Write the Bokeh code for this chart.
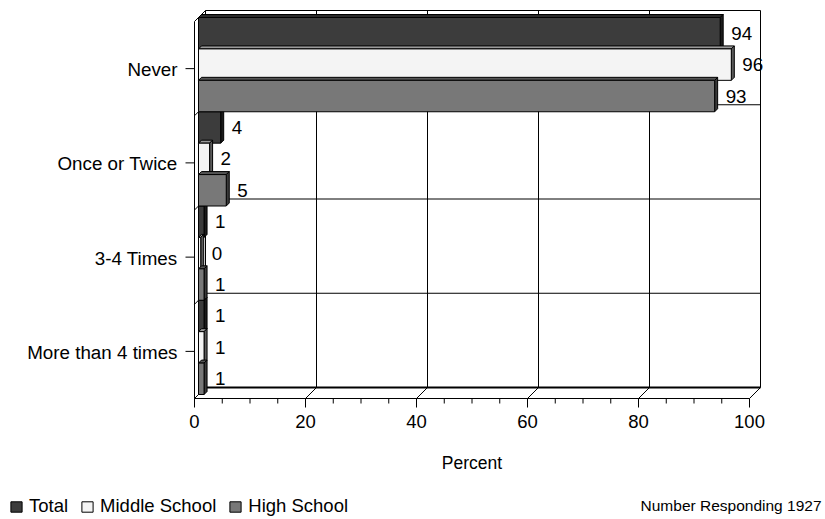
from bokeh.plotting import figure
from bokeh.models import Range1d, Legend, LegendItem, ColumnDataSource
from bokeh.embed import file_html
from bokeh.resources import INLINE
from bokeh.core.properties import value

# ---------------- data ----------------
categories = ["Never", "Once or Twice", "3-4 Times", "More than 4 times"]
series_names = ["Total", "Middle School", "High School"]
total_values = [94, 4, 1, 1]
middle_values = [96, 2, 0.4, 1]
high_values = [93, 5, 1, 1]
x_ticks = [0, 20, 40, 60, 80, 100]
x_minor_step = 5
x_title = "Percent"
note_text = "Number Responding 1927"

# ---------------- styling / geometry ----------------
FONT = "Liberation Sans"
W, H = 825, 519
X0_PX, Y0_PX = 194, 398                   # pixel position of the (0, 0) corner
PXX = 5.55                                # px per percent
PXY = 94.25                               # px per category
DX = 11 / PXX                             # depth offset of back wall
DY = 11 / PXY
BX = 4 / PXX                              # bar offset (mid depth)
BY = 4 / PXY
EX = 3 / PXX                              # bar side thickness
EY = 3 / PXY
ncat = len(categories)

fill_colors = ["#3c3c3c", "#f4f4f4", "#787878"]
side_colors = ["#1c1c1c", "#5a5a5a", "#3a3a3a"]
top_colors = ["#2a2a2a", "#9a9a9a", "#555555"]


def sx(px):   # horizontal offset in px -> data units
    return px / PXX


def sy(px):   # vertical offset in px -> data units
    return px / PXY


p = figure(width=W, height=H, output_backend="svg", toolbar_location=None,
           x_range=Range1d(-sx(X0_PX), sx(W - X0_PX)),
           y_range=Range1d(-sy(H - Y0_PX), sy(Y0_PX)),
           x_axis_location=None, y_axis_location=None,
           min_border=0, min_border_left=0, min_border_right=0,
           min_border_top=0, min_border_bottom=0)
p.outline_line_color = None
p.grid.visible = False
p.background_fill_color = "white"
p.border_fill_color = "white"

# ---------- 3D box: back wall, grid, floor, left wall ----------
back_x0, back_x1 = DX, x_ticks[-1] + DX
back_y0, back_y1 = DY, ncat + DY
p.segment(x0=[back_x0, back_x0, back_x1], y0=[back_y1, back_y0, back_y0],
          x1=[back_x1, back_x0, back_x1], y1=[back_y1, back_y1, back_y1],
          line_color="black", line_width=1)
p.segment(x0=[back_x0], y0=[back_y0], x1=[back_x1], y1=[back_y0],
          line_color="black", line_width=2)
inner = x_ticks[1:-1]
p.segment(x0=[t + DX for t in inner], y0=[back_y0] * len(inner),
          x1=[t + DX for t in inner], y1=[back_y1] * len(inner),
          line_color="black", line_width=1)
bounds = list(range(1, ncat))
p.segment(x0=[back_x0] * len(bounds), y0=[b + DY for b in bounds],
          x1=[back_x1] * len(bounds), y1=[b + DY for b in bounds],
          line_color="black", line_width=1)
p.segment(x0=x_ticks, y0=[0] * len(x_ticks),
          x1=[t + DX for t in x_ticks], y1=[DY] * len(x_ticks),
          line_color="black", line_width=1)
lb = list(range(0, ncat + 1))
p.segment(x0=[0] * len(lb), y0=lb, x1=[DX] * len(lb), y1=[b + DY for b in lb],
          line_color="black", line_width=1)

# ---------- bars ----------
all_values = [total_values, middle_values, high_values]
renderers = []
label_x, label_y, label_t = [], [], []
for si, vals in enumerate(all_values):
    lefts, rights, tops, bottoms = [], [], [], []
    side_xs, side_ys, top_xs, top_ys = [], [], [], []
    for ci, v in enumerate(vals):
        base = ncat - 1 - ci
        t = base + 1 - si / 3 + BY
        b = base + 1 - (si + 1) / 3 + BY
        l = BX
        r = v + BX
        lefts.append(l); rights.append(r); tops.append(t); bottoms.append(b)
        side_xs.append([r, r + EX, r + EX, r]); side_ys.append([b, b + EY, t + EY, t])
        top_xs.append([l, l + EX, r + EX, r]); top_ys.append([t, t + EY, t + EY, t])
        label_x.append(v + BX + EX + sx(8))
        label_y.append((t + b) / 2)
        label_t.append(str(int(round(v))))
    p.patches(xs=top_xs, ys=top_ys, fill_color=top_colors[si], line_color="black", line_width=1)
    p.patches(xs=side_xs, ys=side_ys, fill_color=side_colors[si], line_color="black", line_width=1)
    rr = p.quad(left=lefts, right=rights, top=tops, bottom=bottoms,
                fill_color=fill_colors[si], line_color="black", line_width=1)
    renderers.append(rr)

# front edges (value axis line and category axis line)
p.segment(x0=[0, 0], y0=[0, 0], x1=[0, x_ticks[-1]], y1=[ncat, 0], line_color="black", line_width=1)

lsrc = ColumnDataSource(dict(x=label_x, y=label_y, t=label_t))
p.text(x="x", y="y", text="t", source=lsrc, text_font=value(FONT), text_font_size="18.8px",
       text_baseline="middle", text_align="left", text_color="black")

# ---------- value axis (ticks, labels, title) ----------
minor = [m for m in range(x_ticks[0], x_ticks[-1] + 1, x_minor_step) if m not in x_ticks]
p.segment(x0=x_ticks, y0=[0] * len(x_ticks), x1=x_ticks, y1=[-sy(9)] * len(x_ticks),
          line_color="black", line_width=1)
p.segment(x0=minor, y0=[0] * len(minor), x1=minor, y1=[-sy(5)] * len(minor),
          line_color="black", line_width=1)
tsrc = ColumnDataSource(dict(x=x_ticks, y=[-sy(23)] * len(x_ticks), t=[str(t) for t in x_ticks]))
p.text(x="x", y="y", text="t", source=tsrc, text_font=value(FONT), text_font_size="18.5px",
       text_align="center", text_baseline="middle", text_color="black")
p.text(x=[(x_ticks[0] + x_ticks[-1]) / 2], y=[-sy(64)], text=[x_title], text_font=value(FONT),
       text_font_size="17.5px", text_align="center", text_baseline="middle", text_color="black")

# ---------- category axis (ticks, labels) ----------
centers = [ncat - 1 - i + 0.5 for i in range(ncat)]
p.segment(x0=[0] * ncat, y0=centers, x1=[-sx(9)] * ncat, y1=centers,
          line_color="black", line_width=1)
csrc = ColumnDataSource(dict(x=[-sx(17)] * ncat, y=[c - sy(1) for c in centers], t=categories))
p.text(x="x", y="y", text="t", source=csrc, text_font=value(FONT), text_font_size="18.8px",
       text_align="right", text_baseline="middle", text_color="black")

# ---------- note ----------
p.text(x=[sx(821 - X0_PX)], y=[-sy(107)], text=[note_text], text_font=value(FONT),
       text_font_size="15.5px", text_align="right", text_baseline="middle", text_color="black")

# ---------- legend ----------
legend = Legend(items=[LegendItem(label=n, renderers=[r]) for n, r in zip(series_names, renderers)],
                orientation="horizontal", location=(9, 2),
                glyph_width=14, glyph_height=13, label_standoff=6, spacing=12,
                padding=0, margin=0, border_line_color=None, background_fill_alpha=0,
                label_text_font=FONT, label_text_font_size="18.5px", label_height=10,
                label_text_color="black")
p.add_layout(legend, "center")

open("out.html", "w").write(file_html(p, INLINE))
